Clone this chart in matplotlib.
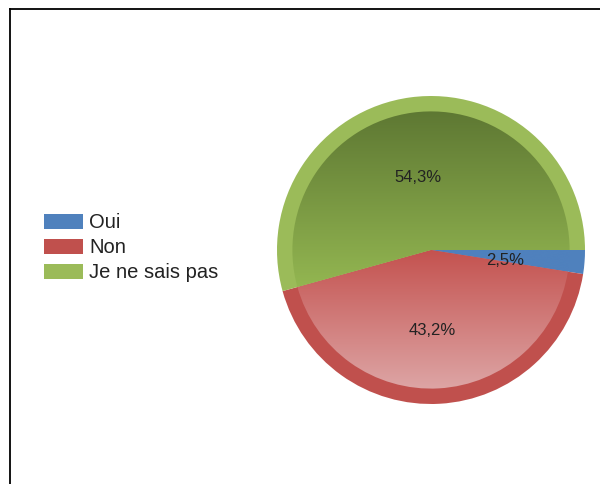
import matplotlib
matplotlib.use("Agg")
import matplotlib.pyplot as plt
import numpy as np
from matplotlib.patches import Wedge, Rectangle
from matplotlib.colors import LinearSegmentedColormap
from matplotlib.lines import Line2D

categories = ["Oui", "Non", "Je ne sais pas"]
values = [2.5, 43.2, 54.3]
pct_labels = ["2,5%", "43,2%", "54,3%"]
ring_colors = ["#4F81BD", "#C0504D", "#9BBB59"]
grad_top = ["#4F81BD", "#C4524F", "#5E7833"]
grad_bottom = ["#4F81BD", "#DDA5A5", "#93B651"]

plt.rcParams['font.family'] = ['Liberation Sans', 'DejaVu Sans']

fig = plt.figure(figsize=(6.0, 4.85), dpi=100)

# pie axes: center ~ (431, 251), radius ~154 px
cx, cy, r = 431, 251, 154
W, H = 600, 485
ax = fig.add_axes([(cx - r) / W, (H - cy - r) / H, 2 * r / W, 2 * r / H])
ax.set_xlim(-1, 1)
ax.set_ylim(-1, 1)
ax.set_aspect('equal')
ax.axis('off')

total = sum(values)
start = 0.0
inner_r = 0.9
for v, rc, gt, gb, lab in zip(values, ring_colors, grad_top, grad_bottom, pct_labels):
    sweep = 360.0 * v / total
    t1, t2 = start - sweep, start
    outer = Wedge((0, 0), 1.0, t1, t2, facecolor=rc, edgecolor='none')
    ax.add_patch(outer)
    inner = Wedge((0, 0), inner_r, t1, t2, facecolor='none', edgecolor='none')
    ax.add_patch(inner)
    ang = np.radians(np.linspace(t1, t2, 200))
    ys = np.concatenate([[0], inner_r * np.sin(ang)])
    ymin, ymax = ys.min(), ys.max()
    cmap = LinearSegmentedColormap.from_list('g', [gb, gt])
    grad = np.linspace(0, 1, 256).reshape(-1, 1)
    im = ax.imshow(grad, extent=(-1, 1, ymin, ymax), origin='lower', cmap=cmap,
                   aspect='auto', interpolation='bicubic', zorder=2)
    im.set_clip_path(inner)
    mid = np.radians((t1 + t2) / 2)
    ax.text(0.5 * np.cos(mid) - 0.02, 0.5 * np.sin(mid) - 0.02, lab, ha='center', va='center',
            fontsize=12, color='#222222', zorder=5)
    start = t1

ax.set_xlim(-1, 1)
ax.set_ylim(-1, 1)

# legend
box_x, box_w, box_h = 44, 39, 15
text_x = 89
ys_px = [222.5, 247.5, 272.5]
for name, col, yp in zip(categories, ring_colors, ys_px):
    fig.patches.append(Rectangle((box_x / W, (H - yp - box_h / 2) / H), box_w / W, box_h / H,
                                 transform=fig.transFigure, facecolor=col, edgecolor='none'))
    fig.text(text_x / W, (H - yp) / H, name, ha='left', va='center', fontsize=14.5, color='#222222')

# border lines (top and left)
fig.add_artist(Line2D([10 / W, 1], [(H - 10) / H, (H - 10) / H], transform=fig.transFigure,
                      color='black', lw=1.3))
fig.add_artist(Line2D([10 / W, 10 / W], [0, (H - 10) / H], transform=fig.transFigure,
                      color='black', lw=1.3))

fig.savefig("out.png", dpi=100, facecolor='white')
